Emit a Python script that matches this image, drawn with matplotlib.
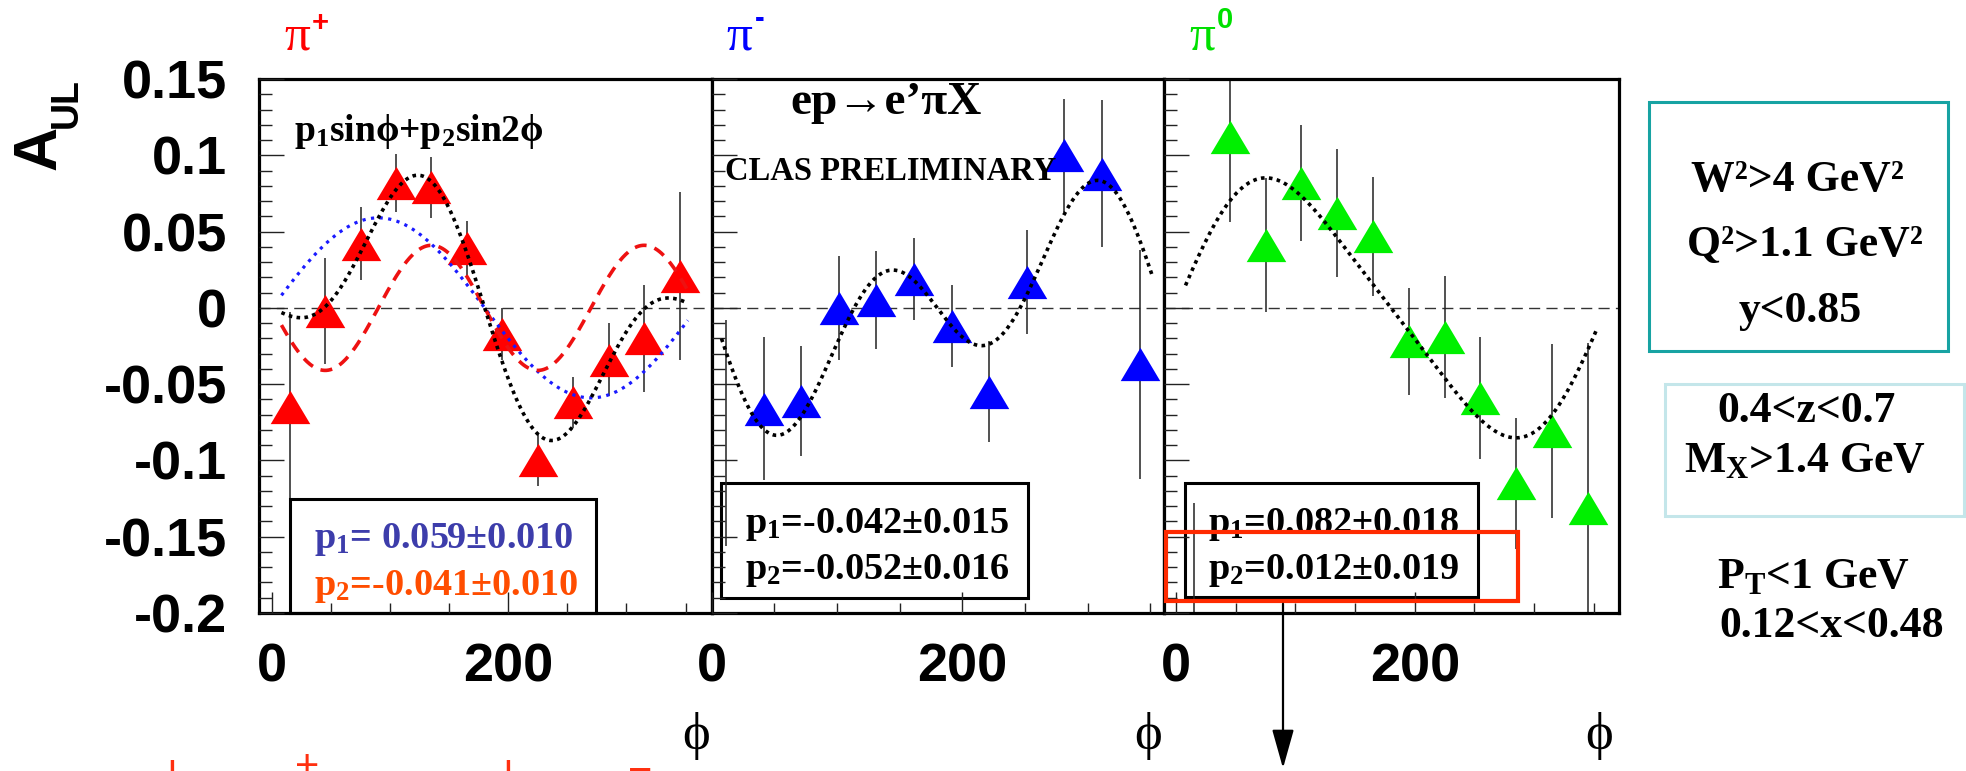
import matplotlib
matplotlib.use("Agg")
import matplotlib.pyplot as plt
import numpy as np
from matplotlib.patches import Rectangle, FancyArrowPatch
from matplotlib.ticker import FixedLocator, MultipleLocator

# ---------------- data ----------------
phi_pip = [15, 45, 75, 105, 135, 165, 195, 225, 255, 285, 315, 345]
aul_pip = [-0.065, -0.002, 0.042, 0.082, 0.079, 0.039, -0.017, -0.100, -0.062, -0.034, -0.020, 0.021]
err_pip = [0.062, 0.035, 0.024, 0.019, 0.020, 0.018, 0.017, 0.017, 0.017, 0.024, 0.035, 0.055]

phi_pim = [11.5, 41.5, 71.5, 101.5, 131.5, 161.5, 191.5, 221.5, 251.5, 281.5, 311.5, 341.5]
aul_pim = [-0.082, -0.066, -0.061, 0.000, 0.005, 0.019, -0.012, -0.055, 0.017, 0.100, 0.088, -0.037]
err_pim = [0.074, 0.047, 0.036, 0.034, 0.032, 0.027, 0.027, 0.033, 0.034, 0.037, 0.048, 0.075]
shown_pim = [False, True, True, True, True, True, True, True, True, True, True, True]

phi_pi0 = [15, 45, 75, 105, 135, 165, 195, 225, 255, 285, 315, 345]
aul_pi0 = [-0.235, 0.112, 0.041, 0.082, 0.062, 0.047, -0.022, -0.019, -0.059, -0.115, -0.081, -0.131]
err_pi0 = [0.107, 0.056, 0.044, 0.038, 0.042, 0.039, 0.035, 0.040, 0.040, 0.043, 0.057, 0.108]

fit_p1 = [0.059, -0.042, 0.082]
fit_p1_err = [0.010, 0.015, 0.018]
fit_p2 = [-0.041, -0.052, 0.012]
fit_p2_err = [0.010, 0.016, 0.019]

ytick_vals = [0.15, 0.1, 0.05, 0.0, -0.05, -0.1, -0.15, -0.2]
ytick_labels = ["0.15", "0.1", "0.05", "0", "-0.05", "-0.1", "-0.15", "-0.2"]
xtick_vals = [0, 200]
xtick_labels = ["0", "200"]

cut_lines_1 = ["W\u00b2>4 GeV\u00b2", "Q\u00b2>1.1 GeV\u00b2", "y<0.85"]
cut_lines_2 = ["0.4<z<0.7", "M$_X$>1.4 GeV"]
cut_lines_3 = ["P$_T$<1 GeV", "0.12<x<0.48"]

# ---------------- style ----------------
plt.rcParams["mathtext.fontset"] = "custom"
plt.rcParams["mathtext.rm"] = "Liberation Serif:bold"
plt.rcParams["mathtext.it"] = "Liberation Serif:bold"
plt.rcParams["mathtext.bf"] = "Liberation Serif:bold"

W, H, DPI = 1966, 771, 100
fig = plt.figure(figsize=(W / DPI, H / DPI), dpi=DPI)
fig.patch.set_facecolor("white")


def fx(x):
    return x / W


def fy(y):
    return 1 - y / H


TOP, BOT = 79, 613
panel_px = [(259, 711.5), (711.5, 1164), (1164, 1619)]
panel_xlim = [(-11, 372), (0, 361), (-10, 371)]

tri = [(-1, -0.84), (1, -0.84), (0, 0.84), (-1, -0.84)]
SANS = "Liberation Sans"
SERIF = ["Liberation Serif", "DejaVu Serif"]

axes = []
for (l, r), xl in zip(panel_px, panel_xlim):
    ax = fig.add_axes([fx(l), fy(BOT), (r - l) / W, (BOT - TOP) / H])
    ax.set_xlim(*xl)
    ax.set_ylim(-0.2, 0.15)
    ax.set_axisbelow(False)
    for s in ax.spines.values():
        s.set_linewidth(2.3)
        s.set_color("black")
    ax.xaxis.set_major_locator(FixedLocator(xtick_vals))
    ax.xaxis.set_minor_locator(MultipleLocator(50))
    ax.yaxis.set_major_locator(FixedLocator(ytick_vals))
    ax.yaxis.set_minor_locator(MultipleLocator(0.01))
    ax.tick_params(which="both", direction="in", top=False, right=False, colors="#222222")
    ax.tick_params(axis="y", which="major", length=18, width=1.0, pad=23)
    ax.tick_params(axis="y", which="minor", length=9.5, width=1.0)
    ax.tick_params(axis="x", which="major", length=15, width=1.0, pad=21)
    ax.tick_params(axis="x", which="minor", length=7.5, width=1.0)
    ax.set_xticklabels(xtick_labels, fontfamily=SANS, fontweight="bold", fontsize=39, color="black")
    ax.set_yticklabels(ytick_labels, fontfamily=SANS, fontweight="bold", fontsize=39, color="black")
    if axes:
        ax.tick_params(axis="y", labelleft=False)
    ax.axhline(0, color="#333333", lw=1.0, ls=(0, (8, 4.5)), zorder=1)
    axes.append(ax)

phi_fit = np.linspace(8, 352, 400)
rad = np.deg2rad(phi_fit)

# panel pi+
ax = axes[0]
ax.errorbar(phi_pip, aul_pip, yerr=err_pip, fmt="none", ecolor="#222222", elinewidth=1.1, zorder=2)
ax.plot(phi_pip, aul_pip, ls="none", marker=tri, ms=28.5, color="#ff0000", mew=0, zorder=3)
ax.plot(phi_fit, fit_p1[0] * np.sin(rad), color="#1a1aff", lw=2.3, ls=(0, (1, 1.7)), zorder=4)
ax.plot(phi_fit, fit_p2[0] * np.sin(2 * rad), color="#ee1111", lw=2.6, ls=(0, (3.3, 2.3)), zorder=4)

# panel pi-
ax = axes[1]
ax.errorbar(phi_pim, aul_pim, yerr=err_pim, fmt="none", ecolor="#222222", elinewidth=1.1, zorder=2)
px = [p for p, s in zip(phi_pim, shown_pim) if s]
py = [a for a, s in zip(aul_pim, shown_pim) if s]
ax.plot(px, py, ls="none", marker=tri, ms=28.5, color="#0000ff", mew=0, zorder=3)

# panel pi0
ax = axes[2]
ax.errorbar(phi_pi0, aul_pi0, yerr=err_pi0, fmt="none", ecolor="#222222", elinewidth=1.1, zorder=2)
ax.plot(phi_pi0, aul_pi0, ls="none", marker=tri, ms=28.5, color="#00f000", mew=0, zorder=3)

for i, ax in enumerate(axes):
    ax.plot(phi_fit, fit_p1[i] * np.sin(rad) + fit_p2[i] * np.sin(2 * rad),
            color="black", lw=2.6, ls=(0, (1, 1.2)), zorder=4)

# fit-result boxes
box_px = [(290, 499, 596, 613), (720.5, 483, 1027.5, 598), (1185, 483, 1478, 597)]
box_z = [2.3, 1.5, 1.5]
for ax, (x0, y0, x1, y1), z in zip(axes, box_px, box_z):
    ax.add_patch(Rectangle((fx(x0), fy(y1)), (x1 - x0) / W, (y1 - y0) / H, transform=fig.transFigure,
                           facecolor="white", edgecolor="black", lw=2.2, zorder=z, clip_on=False))

txt_x = [314, 745, 1208]
p1_fmt = ["p$_1$= {:.3f}\u00b1{:.3f}", "p$_1$={:.3f}\u00b1{:.3f}", "p$_1$={:.3f}\u00b1{:.3f}"]
p2_fmt = ["p$_2$={:.3f}\u00b1{:.3f}", "p$_2$={:.3f}\u00b1{:.3f}", "p$_2$={:.3f}\u00b1{:.3f}"]
p_col1 = ["#3d3dab", "black", "black"]
p_col2 = ["#ff4d00", "black", "black"]
base1 = [548, 533, 533]
base2 = [595, 579, 579]
for i in range(3):
    fig.text(fx(txt_x[i]), fy(base1[i]), p1_fmt[i].format(fit_p1[i], fit_p1_err[i]),
             fontfamily=SERIF, fontweight="bold", fontsize=27.5, color=p_col1[i], va="baseline")
    fig.text(fx(txt_x[i]), fy(base2[i]), p2_fmt[i].format(fit_p2[i], fit_p2_err[i]),
             fontfamily=SERIF, fontweight="bold", fontsize=27.5, color=p_col2[i], va="baseline")

# highlight rectangle and arrow
fig.add_artist(Rectangle((fx(1166), fy(600.5)), (1518 - 1166) / W, (600.5 - 532) / H,
                         transform=fig.transFigure, fill=False, edgecolor="#ff2a00", lw=3.0, zorder=6))
fig.add_artist(FancyArrowPatch((fx(1283), fy(601)), (fx(1283), fy(771)),
                               transform=fig.transFigure, arrowstyle="-|>,head_length=1.6,head_width=0.45",
                               mutation_scale=15, color="black", lw=1.6, zorder=6))

# in-panel labels
fig.text(fx(294), fy(141), "p$_1$sin\u03d5+p$_2$sin2\u03d5", fontfamily=SERIF, fontweight="bold",
         fontsize=27, va="baseline")
fig.text(fx(790), fy(114), "ep\u2192e\u2019\u03c0X", fontfamily=SERIF, fontweight="bold", fontsize=34,
         va="baseline")
fig.text(fx(725), fy(180), "CLAS PRELIMINARY", fontfamily=SERIF, fontweight="bold", fontsize=23.5, va="baseline")

# particle labels
pi_x = [284, 726, 1189]
pi_col = ["#ff0000", "#0000ff", "#00e000"]
pi_sup = ["+", "-", "0"]
sup_x = [312, 755, 1217]
sup_y = [31, 27, 28]
for x, c, s, sx, sy in zip(pi_x, pi_col, pi_sup, sup_x, sup_y):
    fig.text(fx(x), fy(49), "\u03c0", fontfamily=SERIF, fontsize=37, color=c, va="baseline")
    fig.text(fx(sx), fy(sy), s, fontfamily=SANS, fontweight="bold", fontsize=21, color=c, va="baseline")

# axis titles
for cx in [696, 1148, 1599]:
    fig.text(fx(cx), fy(736), "\u03d5", fontfamily=SERIF, fontsize=38, ha="center", va="center")
fig.text(fx(40), fy(148), "A", fontfamily=SANS, fontweight="bold", fontsize=44, rotation=90,
         ha="center", va="center")
fig.text(fx(67), fy(103), "UL", fontfamily=SANS, fontweight="bold", fontsize=27, rotation=90,
         ha="center", va="center")

# cut boxes on the right
fig.add_artist(Rectangle((fx(1649), fy(351.5)), (1948 - 1649) / W, (351.5 - 102) / H, transform=fig.transFigure,
                         fill=False, edgecolor="#17a3a3", lw=2.2))
fig.add_artist(Rectangle((fx(1665), fy(516)), (1964 - 1665) / W, (516 - 384) / H, transform=fig.transFigure,
                         fill=False, edgecolor="#c4e6ea", lw=2.2))
for s, cx, by in zip(cut_lines_1, [1797, 1805, 1800], [191, 256, 322]):
    fig.text(fx(cx), fy(by), s, fontfamily=SERIF, fontweight="bold", fontsize=31.5, ha="center", va="baseline")
for s, cx, by in zip(cut_lines_2, [1807, 1805], [422, 472]):
    fig.text(fx(cx), fy(by), s, fontfamily=SERIF, fontweight="bold", fontsize=31.5, ha="center", va="baseline")
for s, cx, by in zip(cut_lines_3, [1813, 1832], [588, 637]):
    fig.text(fx(cx), fy(by), s, fontfamily=SERIF, fontweight="bold", fontsize=31.5, ha="center", va="baseline")

# clipped red marks at the very bottom (start of the slide's next line)
for x, s, y in [(172, "|", 760), (307, "+", 748), (508, "|", 760), (640, "\u2212", 752)]:
    fig.text(fx(x), fy(y), s, fontfamily=SANS, fontsize=30, color="#ff3010", ha="center", va="top")

fig.savefig("out.png", dpi=DPI)
